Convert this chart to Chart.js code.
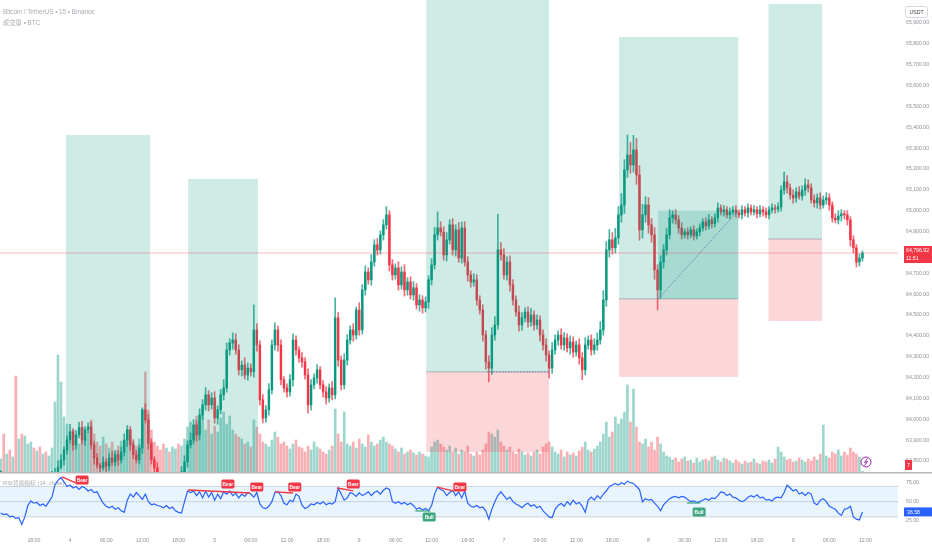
<!DOCTYPE html>
<html>
<head>
<meta charset="utf-8">
<script src="https://cdn.jsdelivr.net/npm/chart.js@4.4.1/dist/chart.umd.min.js"></script>
<style>
  html, body { margin: 0; padding: 0; background: #fff; }
  #wrap { position: relative; width: 932px; height: 550px; overflow: hidden; }
  canvas { position: absolute; left: 0; }
  #priceCanvas { top: 0; }
  #rsiCanvas { top: 472px; }
</style>
</head>
<body>
<div id="wrap">
  <canvas id="priceCanvas" width="932" height="472"></canvas>
  <canvas id="rsiCanvas" width="932" height="78"></canvas>
</div>
<script>
// BTCUSDT, drawn as 30-minute candles. Time is in hours from day 4, 00:00.
const firstHour = -11.5;

const closes = [
  63700, 63690, 63695, 63670, 63675, 63655, 63660, 63600, 63640, 63690, 63715, 63705, 63710, 63695, 63705, 63690, 63712, 63725, 63745, 63770,
  63805, 63853, 63900, 63940, 63877, 63925, 63960, 63900, 63950, 63963, 63877, 63815, 63780, 63767, 63795, 63775, 63815, 63795, 63830, 63805,
  63843, 63900, 63950, 63877, 63830, 63805, 63862, 64045, 63997, 63886, 63805, 63767, 63720, 63685, 63670, 63700, 63660, 63680, 63710, 63690,
  63748, 63795, 63877, 63900, 63973, 63925, 64020, 64069, 64117, 64069, 64102, 64006, 64045, 64117, 64150, 64332, 64366, 64380, 64332, 64237,
  64260, 64212, 64245, 64227, 64428, 64356, 64093, 64006, 64045, 64141, 64356, 64428, 64356, 64189, 64150, 64131, 64189, 64380, 64332, 64294,
  64275, 64212, 64069, 64165, 64198, 64237, 64165, 64131, 64102, 64150, 64117, 64486, 64284, 64165, 64284, 64380, 64428, 64404, 64524, 64428,
  64620, 64706, 64668, 64754, 64836, 64812, 64884, 64932, 64980, 64740, 64692, 64725, 64644, 64706, 64620, 64658, 64596, 64630, 64548, 64572,
  64534, 64562, 64668, 64740, 64884, 64917, 64898, 64788, 64860, 64932, 64812, 64908, 64773, 64917, 64754, 64692, 64658, 64668, 64572, 64524,
  64404, 64275, 64245, 64404, 64452, 64812, 64788, 64692, 64754, 64644, 64572, 64514, 64452, 64486, 64514, 64466, 64500, 64452, 64476, 64404,
  64356, 64308, 64245, 64332, 64380, 64404, 64356, 64390, 64342, 64370, 64322, 64356, 64294, 64237, 64356, 64380, 64332, 64356, 64380, 64428,
  64572, 64812, 64860, 64822, 64870, 64980, 65027, 65195, 65267, 65219, 65291, 65171, 64908, 64980, 65027, 64932, 64884, 64716, 64620, 64754,
  64812, 64884, 64965, 64980, 64956, 64917, 64884, 64898, 64884, 64908, 64879, 64898, 64917, 64946, 64927, 64956, 64937, 64965, 65013, 64994,
  65004, 64980, 64994, 65004, 64989, 64980, 65004, 64989, 65013, 64994, 65004, 64985, 65004, 64994, 64980, 65004, 65013, 65008, 65018, 65099,
  65138, 65109, 65075, 65061, 65090, 65070, 65099, 65123, 65109, 65051, 65037, 65061, 65027, 65051, 65061, 65027, 64965, 64956, 64975, 64985,
  64980, 64956, 64860, 64822, 64754, 64773, 64796.92
];

// wick lengths above / below the body, USDT
const upperWicks = [
  20, 15, 25, 10, 20, 15, 30, 20, 25, 30, 15, 20, 10, 25, 15, 20, 15, 25,
  20, 30, 25, 15, 20, 35, 15, 20, 25, 30, 15, 20, 25, 15, 20, 10, 25, 15, 20, 30, 15, 20, 25, 30, 20, 15, 25, 20, 15, 10, 30, 25,
  20, 15, 25, 20, 15, 30, 20, 25, 15, 20, 25, 30, 20, 35, 25, 20, 30, 25, 35, 20, 25, 30, 20, 25, 40, 34, 20, 34, 30, 25, 20, 35, 25, 20, 120, 30, 20, 25, 20, 30,
  25, 34, 20, 25, 15, 20, 25, 30, 20, 15, 25, 20, 30, 25, 20, 25, 15, 20, 25, 20, 30, 96, 25, 20, 30, 25, 20, 30, 14, 35, 25, 30, 20, 35, 25, 30, 20, 25, 40, 20,
  25, 20, 30, 25, 35, 20, 25, 30, 20, 25, 20, 25, 20, 30, 35, 77, 30, 25, 35, 24, 30, 25, 35, 29, 30, 25, 20, 30, 25, 20, 25, 20, 30, 35, 40, 170, 35, 30, 25, 30,
  25, 20, 30, 25, 20, 25, 30, 20, 25, 20, 25, 30, 20, 35, 25, 20, 30, 25, 20, 30, 25, 20, 30, 25, 35, 20, 25, 30, 35, 40, 45, 40, 50, 35, 45, 40, 55, 50, 96, 60,
  70, 55, 45, 50, 40, 35, 30, 35, 25, 30, 25, 30, 40, 20, 25, 20, 25, 15, 20, 15, 20, 15, 20, 15, 20, 25, 15, 20, 25, 15, 20, 15, 20, 15, 20, 15, 20, 15, 20, 15,
  20, 15, 20, 15, 20, 15, 20, 15, 20, 20, 47, 30, 20, 25, 20, 25, 20, 30, 25, 20, 25, 20, 25, 20, 25, 20, 15, 20, 25, 20, 15, 20, 15, 20, 15, 20, 10
];
const lowerWicks = [
  15, 20, 10, 25, 15, 20, 15, 30, 20, 15, 25, 10, 20, 15, 20, 15, 20, 10,
  15, 20, 10, 25, 20, 15, 25, 20, 15, 20, 25, 15, 20, 30, 15, 20, 10, 25, 20, 15, 20, 25, 15, 20, 30, 25, 20, 15, 20, 25, 15, 30,
  20, 25, 15, 20, 25, 15, 20, 25, 15, 20, 25, 20, 25, 15, 20, 30, 25, 20, 25, 30, 20, 25, 30, 20, 25, 20, 25, 30, 20, 25, 30, 20, 25, 20, 25, 30, 25, 24, 20, 25,
  20, 25, 30, 25, 20, 25, 20, 30, 25, 20, 25, 20, 40, 25, 20, 25, 20, 25, 30, 20, 25, 20, 30, 25, 20, 25, 20, 30, 20, 25, 20, 25, 20, 25, 20, 25, 20, 25, 20, 30,
  25, 20, 25, 20, 30, 25, 20, 25, 20, 30, 25, 20, 30, 25, 20, 25, 20, 25, 30, 20, 25, 30, 20, 25, 20, 30, 25, 20, 25, 20, 30, 35, 66, 30, 25, 20, 25, 20, 25, 30,
  25, 20, 30, 25, 20, 25, 20, 25, 20, 30, 25, 30, 47, 25, 20, 25, 20, 25, 20, 30, 25, 20, 30, 48, 25, 20, 25, 20, 25, 20, 25, 30, 35, 30, 25, 30, 35, 40, 35, 40,
  35, 45, 50, 40, 35, 40, 35, 45, 96, 40, 30, 25, 20, 25, 20, 25, 20, 15, 20, 15, 20, 15, 20, 15, 20, 15, 20, 15, 20, 15, 20, 15, 20, 15, 20, 15, 20, 15, 20, 15,
  15, 20, 15, 20, 15, 20, 15, 20, 15, 20, 20, 25, 20, 25, 20, 15, 20, 25, 20, 15, 20, 25, 20, 15, 20, 25, 20, 15, 20, 25, 20, 25, 30, 25, 24, 20, 15
];

// volume, BTC
const volumes = [
  130, 380, 180, 220, 150, 960, 330, 380, 360, 280, 300, 240, 210, 250, 180, 200, 160, 240,
  700, 1170, 900,
  550, 480, 300, 420, 360, 280, 450, 330, 400, 520, 380, 300, 260, 350, 280, 240, 300, 220, 260, 310, 280, 420, 350, 300, 260, 330, 480, 1000, 620,
  420, 300, 260, 220, 280, 240, 200, 250, 230, 280, 260, 330,
  450, 500, 380, 560, 480, 620, 420, 520, 380, 460, 400, 540, 600, 480, 560, 420, 380, 350,
  330, 280, 300, 250, 520, 450, 380, 300, 280, 250, 320, 400, 350, 280, 300, 260, 230, 280, 320, 250,
  240, 200, 260, 220, 300, 250, 230, 200, 180, 220, 260, 630, 380, 300, 600, 280, 260, 300, 240, 330,
  280, 250, 370, 300, 260, 280, 320, 350, 300, 280, 260, 230, 200, 240, 180, 200, 220, 190, 170, 200, 180, 160, 150,
  250, 300, 320, 280, 250, 220, 260, 200, 240, 180, 220, 200, 260, 180, 160, 200, 170, 220, 280, 400,
  380, 350, 420, 300, 260, 220, 250, 200, 180, 230, 200, 170, 190, 160, 200, 220, 180, 250, 280, 300,
  250, 200, 180, 220, 150, 200, 170, 190, 160, 210, 250, 300, 220, 200, 230, 260, 300,
  380, 500, 350, 400, 550, 480, 530, 600, 870, 500, 830, 450, 300, 280, 330, 250, 300, 220, 350, 280,
  200, 160, 150, 120, 140, 100, 130, 150, 110, 120, 90, 140, 100, 120, 130, 110, 150, 160, 120, 100,
  140, 130, 110, 90, 120, 100, 80, 110, 90, 100, 130, 90, 80, 110, 100, 120, 90, 130, 250, 200,
  150, 120, 130, 100, 110, 140, 120, 100, 130, 110, 150, 120, 180, 470, 160, 140, 200, 180, 220, 160,
  200, 170, 240, 200, 180, 150, 7
];

// RSI (14)
const rsiValues = [
  35, 33, 34, 30, 31, 28, 29, 20, 30, 45, 51, 48, 49, 45, 47, 44, 50, 56, 72, 78,
  82, 76, 70, 72, 68, 70, 66, 70, 68, 64, 66, 62, 63, 55, 48, 44, 42, 44, 40, 42,
  38, 36, 52, 60, 56, 62, 58, 53, 60, 50, 46, 47, 45, 44, 42, 45, 41, 43, 38, 36,
  35, 50, 64, 62, 64, 58, 63, 55, 64, 56, 62, 52, 60, 54, 63, 60, 64, 58, 61, 55,
  60, 57, 62, 60, 56, 62, 47, 42, 41, 44, 50, 62, 63, 58, 48, 46, 52, 50, 60, 57,
  45, 41, 43, 47, 46, 49, 47, 50, 46, 48, 47, 50, 68, 60, 52, 55, 62, 60, 57, 62,
  58, 60, 63, 58, 62, 64, 60, 65, 68, 66, 50, 48, 50, 47, 49, 46, 48, 45, 40, 42,
  39, 41, 38, 45, 60, 69, 66, 64, 58, 62, 65, 58, 63, 55, 64, 48, 44, 43, 45, 42,
  43, 38, 27, 40, 50, 58, 63, 58, 53, 56, 50, 47, 45, 42, 46, 48, 44, 46, 42, 44,
  38, 34, 30, 29, 40, 45, 48, 44, 50, 46, 52, 47, 49, 44, 36, 52, 56, 52, 58, 54,
  60, 64, 70, 72, 74, 72, 75, 73, 77, 75, 74, 70, 66, 50, 54, 52, 53, 48, 44, 38,
  46, 50, 54, 56, 57, 55, 57, 56, 53, 50, 51, 49, 50, 52, 54, 52, 55, 54, 58, 63,
  62, 58, 60, 56, 55, 52, 50, 52, 56, 58, 56, 59, 55, 56, 52, 53, 51, 55, 56, 55,
  62, 72, 68, 64, 66, 60, 62, 58, 62, 60, 48, 46, 52, 54, 50, 44, 42, 40, 35, 32,
  40, 41, 44, 30, 27, 26, 36.58
];

const timeTicks = [-6, 0, 6, 12, 18, 24, 30, 36, 42, 48, 54, 60, 66, 72, 78, 84, 90, 96, 102, 108, 114, 120, 126, 132];
const timeLabels = ['18:00', '4', '06:00', '12:00', '18:00', '5', '06:00', '12:00', '18:00', '6', '06:00', '12:00',
  '18:00', '7', '06:00', '12:00', '18:00', '8', '06:00', '12:00', '18:00', '9', '06:00', '12:00'];
const priceTicks = [63800, 63900, 64000, 64100, 64200, 64300, 64400, 64500, 64600, 64700, 64800,
  64900, 65000, 65100, 65200, 65300, 65400, 65500, 65600, 65700, 65800, 65900];
const rsiTicks = [25, 50, 75];
const rsiBand = [30, 70];

// long position tools
const boxStart = [-0.66, 19.6, 59.1, 91.1, 115.9];
const boxEnd = [13.3, 31.2, 79.5, 110.9, 124.8];
const boxTarget = [65363, 65152, 66100, 65833, 65991];
const boxEntry = [63700, 63700, 64227, 64577, 64864];
const boxStop = [63350, 63350, 63843, 64203, 64471];
const boxFillHour = [null, null, 69.2, 97.6, null];
const boxExitPrice = [null, null, 64227, 65000, null];

// RSI divergences: [hour1, rsi1, hour2, rsi2]
const bearLines = [[-1.33, 82.5, 1.33, 73.3], [19.6, 65.4, 29.9, 61.4], [34.0, 62.8, 37.0, 61.4], [44.3, 68.0, 47.0, 64.1], [60.9, 69.3, 63.6, 64.1]];
const bullLines = [[57.3, 37.8, 59.8, 37.8], [102.4, 48.3, 104.6, 48.3]];
const bearTags = [[2.0, 78.6], [26.2, 73.3], [31.0, 69.3], [37.3, 69.3], [47.0, 73.3], [64.7, 69.3]];
const bullTags = [[59.6, 29.9], [104.4, 36.4]];

const viewStart = -11.62, viewEnd = 137.4;
const priceMin = 63747, priceMax = 66010;
const rsiMin = 12.8, rsiMax = 86.4;
const volumeMax = 4720;
const countdown = '11:51';

const labelFont = "'Liberation Sans', 'Noto Sans CJK SC', sans-serif";
const axisColor = '#8d9098';
const upColor = '#089981';
const downColor = '#f23645';

Chart.defaults.font.family = labelFont;

const hours = closes.map((c, i) => firstHour + i * 0.5);
const opens = closes.map((c, i) => (i === 0 ? c : closes[i - 1]));
const highs = closes.map((c, i) => Math.max(c, opens[i]) + upperWicks[i]);
const lows = closes.map((c, i) => Math.min(c, opens[i]) - lowerWicks[i]);
const lastPrice = closes[closes.length - 1];
const lastRsi = rsiValues[rsiValues.length - 1];

const fmtPrice = v => v.toLocaleString('en-US', { minimumFractionDigits: 2, maximumFractionDigits: 2 });

function barColor(ctx, alpha) {
  const i = ctx.dataIndex;
  const up = i === undefined ? true : closes[i] >= opens[i];
  if (alpha === 1) return up ? upColor : downColor;
  return up ? `rgba(8,153,129,${alpha})` : `rgba(242,54,69,${alpha})`;
}

function rightAxis(extra) {
  return Object.assign({
    position: 'right',
    bounds: 'data',
    grid: { display: false, drawTicks: false },
    border: { display: false },
    afterFit: s => { s.width = 34; s.paddingTop = 0; s.paddingBottom = 0; }
  }, extra);
}

const positionsPlugin = {
  id: 'positions',
  afterDatasetsDraw(chart) {
    const { ctx, chartArea: a, scales: { x, y } } = chart;
    ctx.save();
    ctx.beginPath();
    ctx.rect(a.left, a.top, a.width, a.height);
    ctx.clip();
    boxStart.forEach((t0, k) => {
      const x0 = x.getPixelForValue(t0);
      const x1 = x.getPixelForValue(boxEnd[k]);
      const yT = y.getPixelForValue(boxTarget[k]);
      const yE = y.getPixelForValue(boxEntry[k]);
      const yS = y.getPixelForValue(boxStop[k]);
      ctx.fillStyle = 'rgba(8,153,129,0.2)';
      ctx.fillRect(x0, yT, x1 - x0, yE - yT);
      ctx.fillStyle = 'rgba(242,54,69,0.2)';
      ctx.fillRect(x0, yE, x1 - x0, yS - yE);
      ctx.strokeStyle = 'rgba(120,123,134,0.5)';
      ctx.lineWidth = 1;
      ctx.beginPath();
      ctx.moveTo(x0, yE);
      ctx.lineTo(x1, yE);
      ctx.stroke();
      if (boxFillHour[k] !== null) {
        const xf = x.getPixelForValue(boxFillHour[k]);
        const yX = y.getPixelForValue(boxExitPrice[k]);
        if (boxExitPrice[k] > boxEntry[k]) {
          ctx.fillStyle = 'rgba(8,153,129,0.2)';
          ctx.fillRect(xf, yX, x1 - xf, yE - yX);
        }
        ctx.setLineDash([1.5, 1.5]);
        ctx.strokeStyle = 'rgba(90,92,170,0.75)';
        ctx.beginPath();
        ctx.moveTo(xf, yE);
        ctx.lineTo(x1, yX);
        ctx.stroke();
        ctx.setLineDash([]);
      }
    });
    const yP = y.getPixelForValue(lastPrice);
    ctx.strokeStyle = 'rgba(242,54,69,0.35)';
    ctx.lineWidth = 1;
    ctx.beginPath();
    ctx.moveTo(a.left, yP);
    ctx.lineTo(a.right, yP);
    ctx.stroke();
    ctx.restore();
  },
  afterDraw(chart) {
    const { ctx, chartArea: a, scales: { y } } = chart;
    ctx.save();
    ctx.textBaseline = 'middle';
    ctx.font = `6.3px ${labelFont}`;
    ctx.fillStyle = '#a8abb3';
    ctx.fillText('Bitcoin / TetherUS • 15 • Binance', 3, 12);
    ctx.fillText('成交量 • BTC', 3, 23);

    // unit box
    ctx.strokeStyle = '#d6d8de';
    ctx.lineWidth = 1;
    ctx.beginPath();
    ctx.roundRect(905.5, 6.5, 22, 11, 2);
    ctx.stroke();
    ctx.fillStyle = '#3c4043';
    ctx.font = `5.2px ${labelFont}`;
    ctx.textAlign = 'center';
    ctx.fillText('USDT', 916.5, 12.3);

    // last price tag
    const yP = y.getPixelForValue(lastPrice);
    ctx.fillStyle = downColor;
    ctx.fillRect(a.right + 6, yP - 7, 28, 17);
    ctx.fillStyle = '#fff';
    ctx.textAlign = 'left';
    ctx.fillText(fmtPrice(lastPrice), a.right + 8, yP - 2.5);
    ctx.fillText(countdown, a.right + 8, yP + 5.5);

    // volume tag
    ctx.fillStyle = downColor;
    ctx.fillRect(a.right + 7, a.bottom - 12, 7, 10);
    ctx.fillStyle = '#fff';
    ctx.textAlign = 'center';
    ctx.fillText(String(volumes[volumes.length - 1]), a.right + 10.5, a.bottom - 6.8);

    // replay icon
    const cx = a.right - 32, cy = a.bottom - 10;
    ctx.fillStyle = '#fff';
    ctx.strokeStyle = '#9c27b0';
    ctx.beginPath();
    ctx.arc(cx, cy, 5, 0, Math.PI * 2);
    ctx.fill();
    ctx.stroke();
    ctx.beginPath();
    ctx.moveTo(cx + 1.5, cy - 3.5);
    ctx.lineTo(cx - 1.5, cy + 0.5);
    ctx.lineTo(cx + 1.5, cy - 0.5);
    ctx.lineTo(cx - 1.5, cy + 3.5);
    ctx.stroke();
    ctx.restore();
  }
};

function drawTag(ctx, px, py, text, color) {
  const w = 13, h = 9;
  ctx.fillStyle = color;
  ctx.beginPath();
  ctx.roundRect(px - w / 2, py - h / 2, w, h, 1.5);
  ctx.fill();
  ctx.fillStyle = '#fff';
  ctx.font = `bold 4.8px ${labelFont}`;
  ctx.textAlign = 'center';
  ctx.textBaseline = 'middle';
  ctx.fillText(text, px, py + 0.3);
}

const rsiPlugin = {
  id: 'rsiDecor',
  beforeDatasetsDraw(chart) {
    const { ctx, chartArea: a, scales: { y } } = chart;
    const yTop = y.getPixelForValue(rsiBand[1]);
    const yBot = y.getPixelForValue(rsiBand[0]);
    const yMid = y.getPixelForValue(50);
    ctx.save();
    ctx.fillStyle = 'rgba(33,150,243,0.1)';
    ctx.fillRect(a.left, yTop, a.width, yBot - yTop);
    ctx.strokeStyle = 'rgba(120,123,134,0.3)';
    ctx.lineWidth = 1;
    [yTop, yMid, yBot].forEach(py => {
      ctx.beginPath();
      ctx.moveTo(a.left, py);
      ctx.lineTo(a.right, py);
      ctx.stroke();
    });
    ctx.font = `5.8px ${labelFont}`;
    ctx.fillStyle = '#a8abb3';
    ctx.textBaseline = 'middle';
    ctx.fillText('RSI背离指标 (14, close)', 3, 11);
    ctx.restore();
  },
  afterDatasetsDraw(chart) {
    const { ctx, scales: { x, y } } = chart;
    ctx.save();
    bearTags.forEach(([t, v]) => drawTag(ctx, x.getPixelForValue(t), y.getPixelForValue(v), 'Bear', downColor));
    bullTags.forEach(([t, v]) => drawTag(ctx, x.getPixelForValue(t), y.getPixelForValue(v), 'Bull', '#3fa77f'));
    ctx.restore();
  },
  afterDraw(chart) {
    const { ctx, chartArea: a, scales: { y } } = chart;
    ctx.save();
    ctx.strokeStyle = '#b4b7be';
    ctx.lineWidth = 1.5;
    ctx.beginPath();
    ctx.moveTo(0, 0.75);
    ctx.lineTo(chart.width, 0.75);
    ctx.stroke();
    const yR = y.getPixelForValue(lastRsi);
    ctx.fillStyle = '#2962ff';
    ctx.fillRect(a.right + 6, yR - 4.5, 28, 9);
    ctx.fillStyle = '#fff';
    ctx.font = `5.2px ${labelFont}`;
    ctx.textBaseline = 'middle';
    ctx.fillText(lastRsi.toFixed(2), a.right + 9, yR + 0.3);
    ctx.restore();
  }
};

const tickFont = { size: 5.2 };

new Chart(document.getElementById('priceCanvas'), {
  data: {
    datasets: [
      {
        type: 'bar', label: 'wicks',
        data: hours.map((h, i) => ({ x: h, y: [lows[i], highs[i]] })),
        backgroundColor: c => barColor(c, 0.75),
        barThickness: 1, grouped: false, order: 2, clip: 0
      },
      {
        type: 'bar', label: 'bodies',
        data: hours.map((h, i) => ({ x: h, y: [opens[i], closes[i]] })),
        backgroundColor: c => barColor(c, 1),
        barThickness: 1.8, minBarLength: 1, grouped: false, order: 1, clip: 0
      },
      {
        type: 'bar', label: 'volume', yAxisID: 'vol',
        data: hours.map((h, i) => ({ x: h, y: volumes[i] })),
        backgroundColor: c => barColor(c, 0.4),
        barThickness: 2, grouped: false, order: 3, clip: 0
      }
    ]
  },
  options: {
    responsive: false,
    animation: false,
    events: [],
    layout: { padding: 0 },
    plugins: { legend: { display: false }, tooltip: { enabled: false } },
    scales: {
      x: { type: 'linear', min: viewStart, max: viewEnd, bounds: 'data', display: false, offset: false, grid: { offset: false } },
      y: rightAxis({
        type: 'linear', min: priceMin, max: priceMax,
        ticks: { color: axisColor, font: tickFont, padding: 8, autoSkip: false, callback: v => fmtPrice(v) },
        afterBuildTicks: s => { s.ticks = priceTicks.map(v => ({ value: v })); }
      }),
      vol: { type: 'linear', axis: 'y', position: 'left', display: false, min: 0, max: volumeMax }
    }
  },
  plugins: [positionsPlugin]
});

const divergenceSets = [
  ...bearLines.map(l => ({ color: downColor, l })),
  ...bullLines.map(l => ({ color: '#3fa77f', l }))
].map(({ color, l }) => ({
  type: 'line',
  data: [{ x: l[0], y: l[1] }, { x: l[2], y: l[3] }],
  borderColor: color, borderWidth: 1.3, pointRadius: 0, order: 0, clip: 0
}));

new Chart(document.getElementById('rsiCanvas'), {
  data: {
    datasets: [
      {
        type: 'line', label: 'RSI',
        data: hours.map((h, i) => ({ x: h, y: rsiValues[i] })),
        borderColor: '#2962ff', borderWidth: 1.2, pointRadius: 0, tension: 0, order: 1, clip: 0
      },
      ...divergenceSets
    ]
  },
  options: {
    responsive: false,
    animation: false,
    events: [],
    layout: { padding: { top: 2 } },
    plugins: { legend: { display: false }, tooltip: { enabled: false } },
    scales: {
      x: {
        type: 'linear', min: viewStart, max: viewEnd, bounds: 'data', position: 'bottom', offset: false,
        grid: { display: false, drawTicks: false }, border: { display: false },
        ticks: { color: axisColor, font: tickFont, padding: 7, autoSkip: false, maxRotation: 0, minRotation: 0,
          callback: (v, i) => timeLabels[i] },
        afterBuildTicks: s => { s.ticks = timeTicks.map(v => ({ value: v })); },
        afterFit: s => { s.height = 20; s.paddingLeft = 0; s.paddingRight = 0; }
      },
      y: rightAxis({
        type: 'linear', min: rsiMin, max: rsiMax,
        ticks: { color: axisColor, font: tickFont, padding: 8, autoSkip: false, callback: v => v.toFixed(2) },
        afterBuildTicks: s => { s.ticks = rsiTicks.map(v => ({ value: v })); }
      })
    }
  },
  plugins: [rsiPlugin]
});
</script>
</body>
</html>
